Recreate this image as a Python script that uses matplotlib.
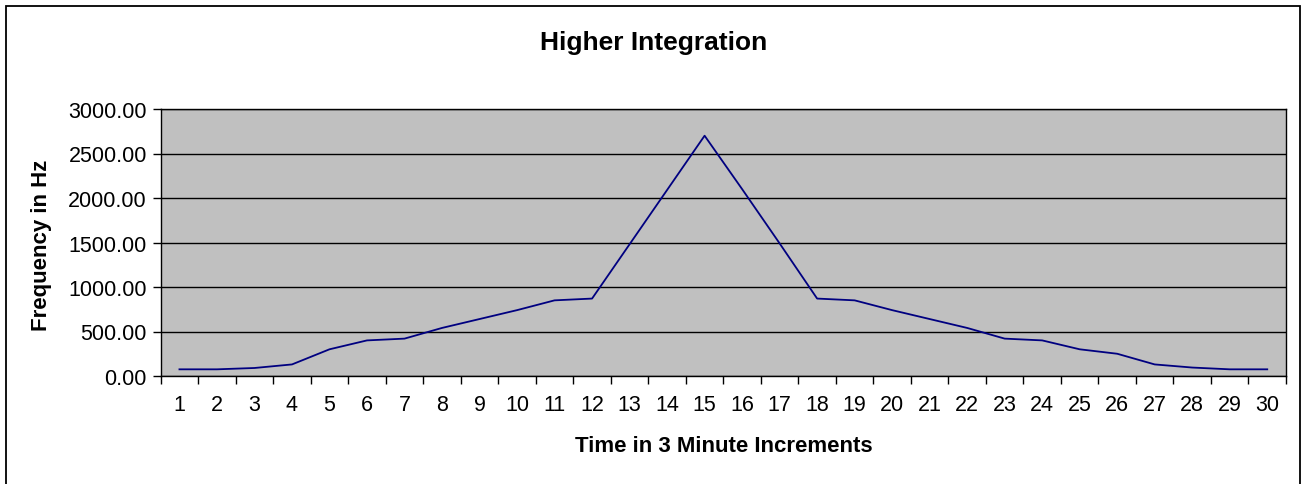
import matplotlib
matplotlib.use("Agg")
import matplotlib.pyplot as plt
from matplotlib.patches import Rectangle
from matplotlib.ticker import FixedLocator, NullFormatter

plt.rcParams['font.family'] = ['Liberation Sans', 'DejaVu Sans']

categories = [str(i) for i in range(1, 31)]
frequency = [75, 75, 90, 130, 300, 400, 420, 540, 640, 740, 850, 870, 1480, 2090, 2700,
             2100, 1490, 870, 850, 740, 640, 540, 420, 400, 300, 250, 130, 95, 75, 75]
yticks = [0, 500, 1000, 1500, 2000, 2500, 3000]

W, H = 1301, 485
fig = plt.figure(figsize=(W / 100, H / 100), dpi=100)
fig.patches.append(Rectangle((5.5 / W, -10 / H), (1299.5 - 5.5) / W, (H + 10 - 7) / H,
                             transform=fig.transFigure, fill=False,
                             edgecolor='black', linewidth=1.3))

left, right, top, bottom = 160.7, 1286, 110, 377
ax = fig.add_axes([left / W, 1 - bottom / H, (right - left) / W, (bottom - top) / H])
ax.set_facecolor('#C0C0C0')
x = list(range(len(categories)))
ax.plot(x, frequency, color='#000080', linewidth=1.3)
ax.set_xlim(-0.5, len(categories) - 0.5)
ax.set_ylim(0, 3000)
ax.set_yticks(yticks)
ax.set_yticklabels([f"{v:.2f}" for v in yticks])
ax.yaxis.grid(True, color='black', linewidth=1)
ax.set_axisbelow(True)
ax.xaxis.set_major_locator(FixedLocator(x))
ax.set_xticklabels(categories)
ax.tick_params(axis='x', which='major', length=0, labelsize=15.5, pad=13)
ax.xaxis.set_minor_locator(FixedLocator([i - 0.5 for i in range(len(categories) + 1)]))
ax.xaxis.set_minor_formatter(NullFormatter())
ax.tick_params(axis='x', which='minor', length=6, width=1, color='black')
ax.tick_params(axis='y', length=6, width=1, labelsize=15.5, pad=4)
for s in ax.spines.values():
    s.set_color('black')
    s.set_linewidth(1)

fig.text(654 / W, 1 - 43 / H, 'Higher Integration', ha='center', va='center',
         fontsize=19, fontweight='bold')
fig.text(724 / W, 1 - 447 / H, 'Time in 3 Minute Increments', ha='center',
         va='center', fontsize=16, fontweight='bold')
fig.text(42 / W, 1 - 245 / H, 'Frequency in Hz', ha='center', va='center', rotation=90,
         fontsize=16, fontweight='bold')

fig.savefig('out.png', dpi=100, facecolor='white')
